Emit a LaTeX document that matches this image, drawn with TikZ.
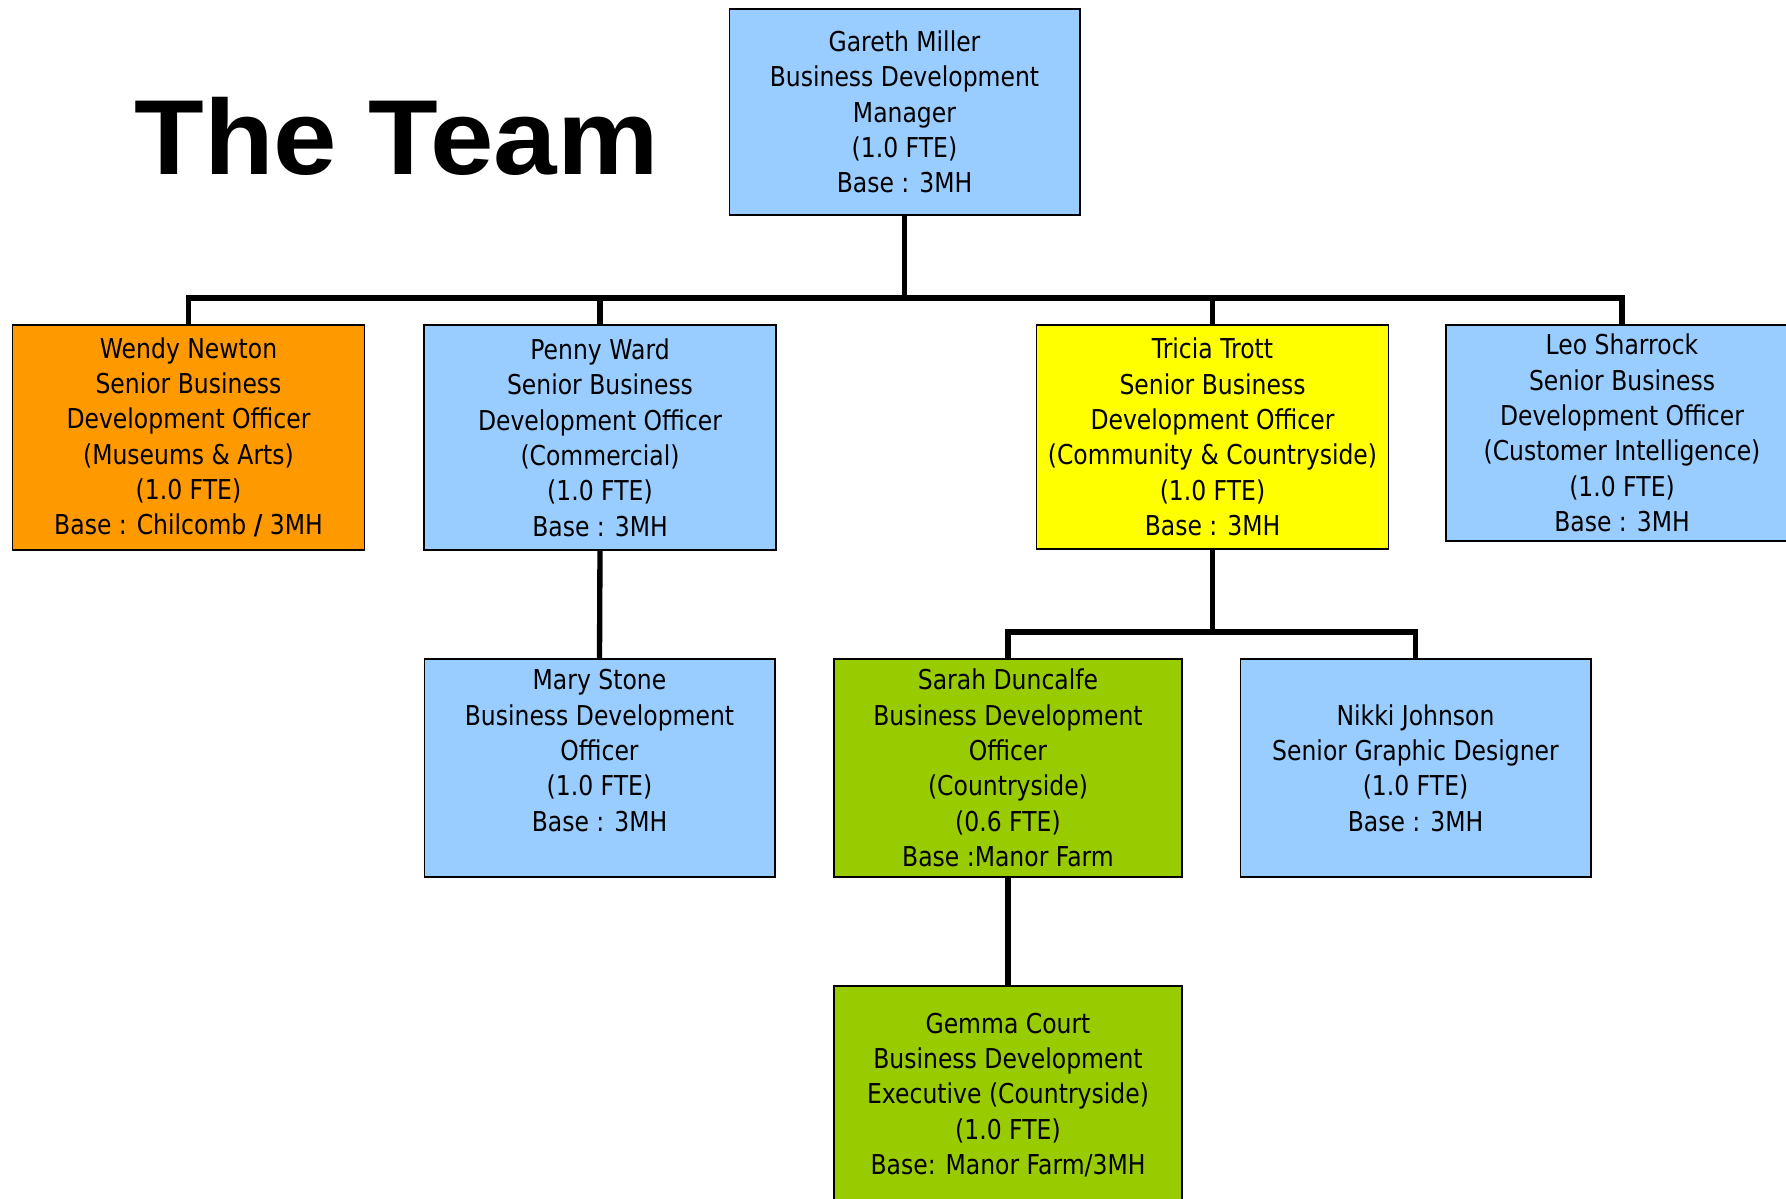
\documentclass[tikz,border=0pt]{standalone}
\usepackage{fontspec}
\setmainfont{DejaVu Sans}[FakeStretch=0.86, BoldFont={DejaVu Sans Bold}]
\newfontfamily\titlefont{Liberation Sans}
\definecolor{lblue}{HTML}{99CCFF}
\definecolor{orng}{HTML}{FF9900}
\definecolor{yllw}{HTML}{FFFF00}
\definecolor{grn}{HTML}{99CC00}
\begin{document}
\begin{tikzpicture}[x=0.75pt,y=-0.75pt,
  box/.style={draw=black, line width=1pt, inner sep=0pt, outer sep=0pt, align=center,
    font=\fontsize{20.5pt}{26.5pt}\selectfont, minimum width=263pt, minimum height=163.5pt},
  conn/.style={draw=black, line width=4pt}]
\useasboundingbox (0,0) rectangle (1786,1199);
\fill[white] (0,0) rectangle (1786,1199);

\node[anchor=base west, inner sep=0pt, font=\titlefont\bfseries\fontsize{80pt}{90pt}\selectfont] (title) at (134,174) {\scalebox{1.07}[1]{The Team}};

\node[box, fill=lblue, minimum height=154.5pt] (gareth) at (904.5,112)
  {Gareth Miller\\Business Development\\Manager\\(1.0 FTE)\\Base : 3MH};

\node[box, fill=orng, minimum height=168.75pt, minimum width=264pt] (wendy) at (188.5,437.5)
  {Wendy Newton\\Senior Business\\Development Officer\\(Museums \& Arts)\\(1.0 FTE)\\Base : Chilcomb \textbf{/} 3MH};
\node[box, fill=lblue, minimum height=168.75pt, minimum width=264pt] (penny) at (600,437.5)
  {Penny Ward\\Senior Business\\Development Officer\\(Commercial)\\(1.0 FTE)\\Base : 3MH};
\node[box, fill=yllw, minimum height=168pt, minimum width=264pt] (tricia) at (1212.5,437)
  {Tricia Trott\\Senior Business\\Development Officer\\(Community \& Countryside)\\(1.0 FTE)\\Base : 3MH};
\node[box, fill=lblue, minimum height=162pt, minimum width=264pt] (leo) at (1622,433)
  {Leo Sharrock\\Senior Business\\Development Officer\\(Customer Intelligence)\\(1.0 FTE)\\Base : 3MH};

\node[box, fill=lblue] (mary) at (599.5,768)
  {Mary Stone\\Business Development\\Officer\\(1.0 FTE)\\Base : 3MH\\\mbox{}};
\node[box, fill=grn, minimum width=261pt] (sarah) at (1008,768)
  {Sarah Duncalfe\\Business Development\\Officer\\(Countryside)\\(0.6 FTE)\\Base :Manor Farm};
\node[box, fill=lblue] (nikki) at (1415.5,768)
  {Nikki Johnson\\Senior Graphic Designer\\(1.0 FTE)\\Base : 3MH};
\node[box, fill=grn, minimum width=261pt] (gemma) at (1008,1095)
  {Gemma Court\\Business Development\\Executive (Countryside)\\(1.0 FTE)\\Base: Manor Farm/3MH};

\coordinate (bus) at (904.5,298);
\coordinate (tbus) at (1212.5,632);
\draw[conn] (gareth.south) -- (bus);
\draw[conn] (wendy.north) |- (bus) -| (leo.north);
\draw[conn] (penny.north) -- (penny.north |- bus);
\draw[conn] (tricia.north) -- (tricia.north |- bus);
\draw[conn] (penny.south) -- (mary.north);
\draw[conn] (tricia.south) -- (tbus);
\draw[conn] (sarah.north) |- (tbus) -| (nikki.north);
\draw[conn] (sarah.south) -- (gemma.north);
\end{tikzpicture}
\end{document}
